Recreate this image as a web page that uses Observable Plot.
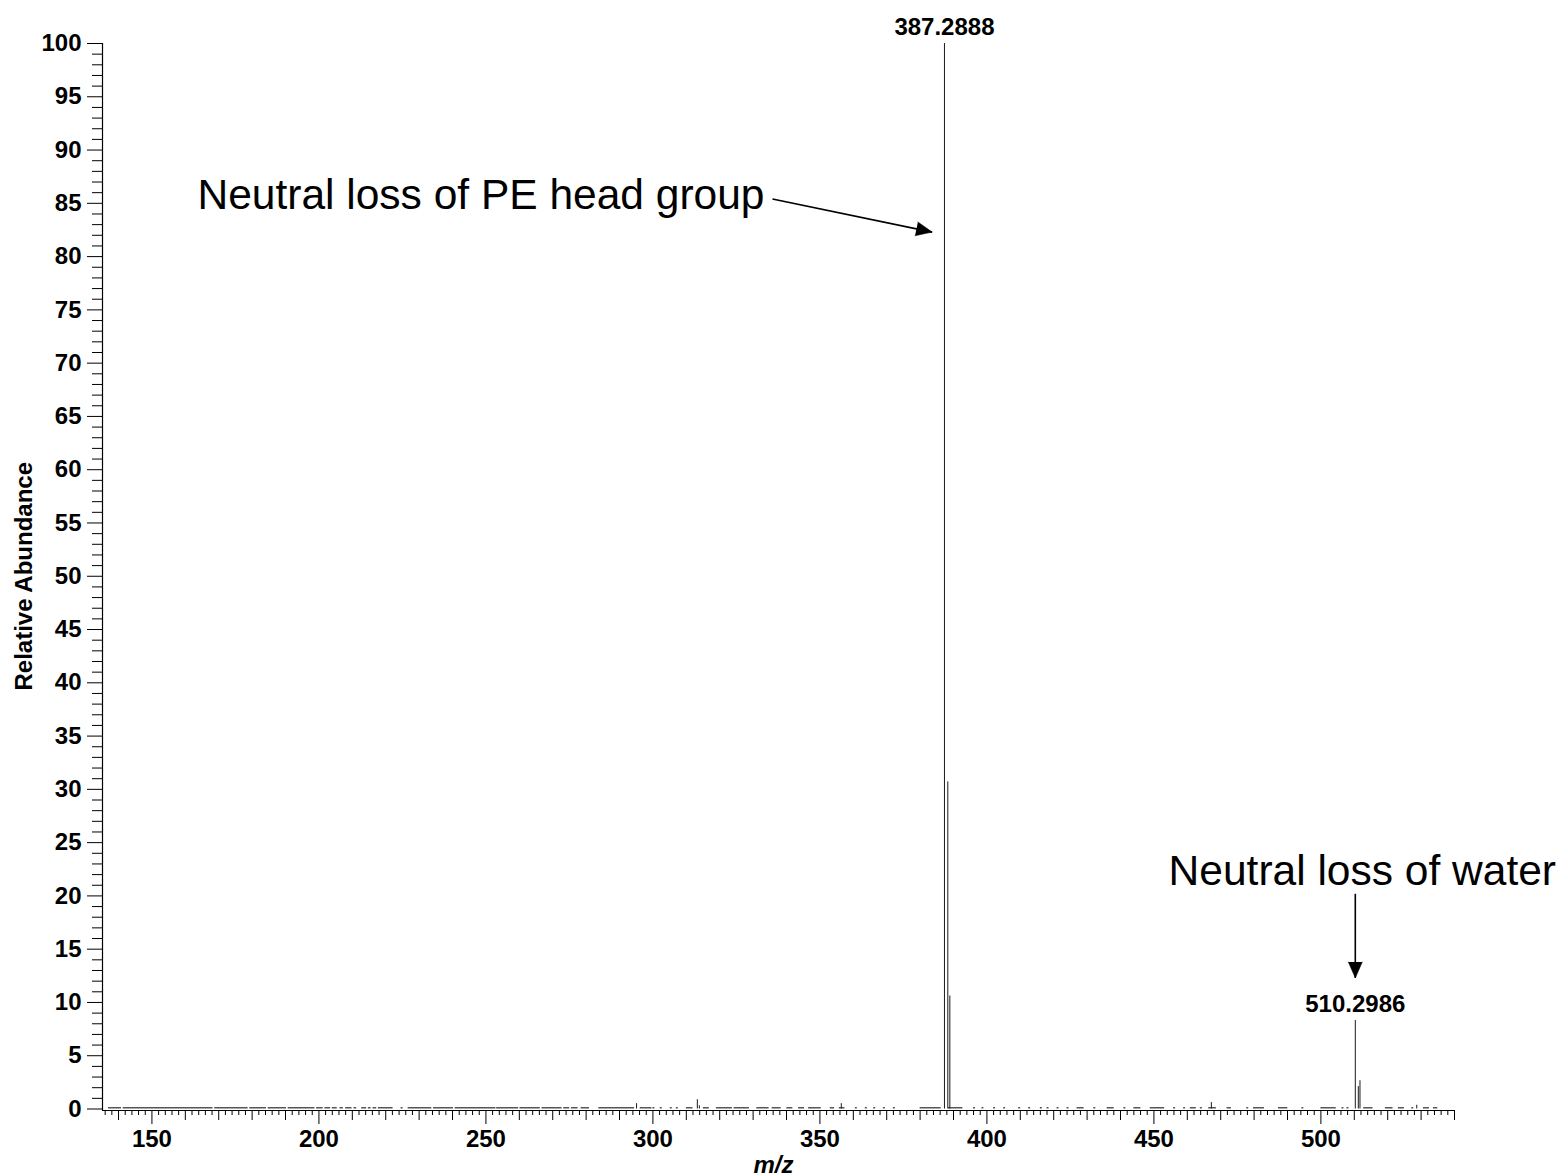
<!DOCTYPE html>
<html>
<head>
<meta charset="utf-8">
<script src="https://cdn.jsdelivr.net/npm/d3@7"></script>
<script src="https://cdn.jsdelivr.net/npm/@observablehq/plot@0.6"></script>
<style>
  html, body { margin: 0; padding: 0; background: #ffffff; }
  #chart svg { display: block; }
</style>
</head>
<body>
<div id="chart"></div>
<script>
// MS/MS spectrum: m/z vs relative abundance

// Resolved fragment peaks
const peakMz    = [387.2888, 388.29, 388.9, 510.2986, 511.2, 511.7, 295.1, 313.3, 313.9, 356.4, 467.2, 528.7];
const peakAbund = [100,      30.7,   10.6,  8.3,      2.1,   2.65,  0.5,   0.87,  0.3,   0.5,   0.6,   0.35];

// Peaks annotated with their exact mass
const labelMz = [387.2888, 510.2986];

// Baseline noise: runs of low-level signal (start / end m/z)
const noiseStart = [137.0, 141.4, 168.8, 179.3, 184.8, 190.8, 199.3, 201.8, 204.0, 206.3, 208.0, 210.5, 212.8, 214.8, 216.2, 217.8,
  224.6, 226.7, 234.3, 240.8, 253.2, 260.2, 266.8, 273.3, 275.6, 278.5, 283.8, 296.2, 300.0, 302.2, 305.2, 307.0, 310.0,
  315.1, 319.0, 324.3, 331.1, 335.7, 340.1, 343.6, 346.6, 353.1, 355.8, 360.6, 363.6, 366.1, 369.0, 372.0, 380.0, 388.5,
  396.0, 398.5, 402.0, 405.0, 409.5, 412.5, 416.0, 418.0, 421.0, 424.0, 427.0, 432.0, 436.0, 441.0, 444.0, 448.9, 455.9,
  458.9, 460.9, 463.9, 466.4, 471.9, 477.8, 479.8, 487.3, 494.3, 500.0, 506.3, 507.8, 512.8, 519.3, 523.2, 527.2, 530.7, 533.7];
const noiseEnd   = [140.6, 168.0, 178.5, 184.0, 190.0, 198.5, 201.0, 203.2, 205.2, 207.0, 209.6, 211.0, 214.0, 215.3, 217.0, 221.9,
  224.9, 233.5, 240.0, 252.7, 259.5, 266.0, 272.5, 274.8, 277.3, 280.7, 294.2, 299.4, 300.3, 302.5, 305.5, 307.3, 311.7,
  316.6, 323.5, 328.6, 334.5, 338.1, 341.6, 345.1, 350.1, 354.1, 357.2, 360.9, 363.9, 366.4, 369.3, 372.3, 386.0, 392.5,
  396.3, 398.8, 402.3, 405.3, 409.8, 412.8, 416.3, 418.3, 421.3, 424.3, 428.8, 432.3, 437.8, 441.3, 445.8, 452.9, 456.2,
  459.2, 462.4, 464.2, 468.4, 472.9, 478.1, 482.8, 489.8, 494.6, 504.3, 506.6, 508.1, 515.3, 521.3, 524.7, 527.5, 532.2, 534.7];
const noiseLevel = 0.14;

// Axis ticks
const xMajor = [150, 200, 250, 300, 350, 400, 450, 500];
const yMajor = [0, 5, 10, 15, 20, 25, 30, 35, 40, 45, 50, 55, 60, 65, 70, 75, 80, 85, 90, 95, 100];

// Annotations: text position and arrow from (x1, y1) to its tip (x2, y2)
const headNote  = {text: "Neutral loss of PE head group", x: 333.4, y: 85.7, x1: 335.8, y1: 85.4, x2: 383.6, y2: 82.3};
const waterNote = {text: "Neutral loss of water",         x: 454.4, y: 22.3, x1: 510.3, y1: 20.2, x2: 510.3, y2: 12.3};

// Layout
const W = 1560, H = 1176;
const mL = 102, mR = 106, mT = 43, mB = 66;
const xDomain = [135.2, 540];
const yDomain = [-0.14, 100];

const peaks = peakMz.map((mz, i) => ({mz, abund: peakAbund[i]}));
const labeled = peaks.filter(p => labelMz.includes(p.mz));
const noise = noiseStart.map((s, i) => ({x1: s, x2: noiseEnd[i] + 0.3, y: noiseLevel}));
const notes = [headNote, waterNote];

// screen direction of each arrow, for orienting its head
const sx = v => mL + (v - xDomain[0]) / (xDomain[1] - xDomain[0]) * (W - mL - mR);
const sy = v => (H - mB) - (v - yDomain[0]) / (yDomain[1] - yDomain[0]) * (H - mT - mB);
notes.forEach(n => {
  const dx = sx(n.x2) - sx(n.x1), dy = sy(n.y2) - sy(n.y1);
  n.angle = Math.atan2(dx, -dy) * 180 / Math.PI;
});

const font = "'Liberation Sans', Arial, Helvetica, sans-serif";
const tickFont = {fontSize: 24, fontWeight: "bold", fontFamily: font};

const chart = Plot.plot({
  width: W,
  height: H,
  marginLeft: mL,
  marginRight: mR,
  marginTop: mT,
  marginBottom: mB,
  style: {fontFamily: font, background: "#ffffff", color: "#000000", overflow: "visible"},
  x: {domain: xDomain},
  y: {domain: yDomain},
  marks: [
    // baseline noise
    Plot.rectY(noise, {x1: "x1", x2: "x2", y1: 0, y2: "y", fill: "#555555"}),
    // spectrum peaks
    Plot.ruleX(peaks, {x: "mz", y1: 0, y2: "abund", stroke: "#1a1a1a", strokeWidth: 1}),
    // axis lines
    Plot.ruleX([xDomain[0]], {stroke: "#000000", strokeWidth: 1.2}),
    Plot.ruleY([yDomain[0]], {stroke: "#000000", strokeWidth: 1.2}),
    // y axis: labelled major ticks and unit minor ticks
    Plot.axisY({ticks: yMajor, tickSize: 15, tickPadding: 6, label: null, ...tickFont}),
    Plot.axisY({ticks: d3.range(0, 101, 1).filter(v => v % 5 !== 0), tickSize: 10, fill: "none", label: null}),
    // x axis: labelled major ticks, tens and twos
    Plot.axisX({ticks: xMajor, tickSize: 14, tickPadding: 5, label: null, ...tickFont}),
    Plot.axisX({ticks: d3.range(140, 541, 10).filter(v => v % 50 !== 0), tickSize: 10, fill: "none", label: null}),
    Plot.axisX({ticks: d3.range(136, 541, 2).filter(v => v % 10 !== 0), tickSize: 5, fill: "none", label: null}),
    // axis titles
    Plot.text(["Relative Abundance"], {text: d => d, frameAnchor: "left", y: 50, dx: -78, rotate: -90,
      lineAnchor: "middle", textAnchor: "middle", fontSize: 24, fontWeight: "bold"}),
    Plot.text(["m/z"], {text: d => d, frameAnchor: "bottom", dx: -5, dy: 55, lineAnchor: "middle",
      fontSize: 24, fontWeight: "bold", fontStyle: "italic"}),
    // exact-mass labels
    Plot.text(labeled, {x: "mz", y: "abund", text: d => d.mz.toFixed(4), dy: -16, lineAnchor: "middle",
      fontSize: 24, fontWeight: "bold"}),
    // annotation texts and arrows
    Plot.text([headNote], {x: "x", y: "y", text: "text", textAnchor: "end", lineAnchor: "middle",
      fontSize: 42.5, fontWeight: "normal"}),
    Plot.text([waterNote], {x: "x", y: "y", text: "text", textAnchor: "start", lineAnchor: "middle",
      fontSize: 42.5, fontWeight: "normal"}),
    Plot.link(notes, {x1: "x1", y1: "y1", x2: "x2", y2: "y2", stroke: "#000000", strokeWidth: 1.6}),
    Plot.vector(notes, {x: "x2", y: "y2", rotate: "angle", length: 16, r: 7, shape: "spike", anchor: "end",
      fill: "#000000", stroke: "#000000", strokeWidth: 0.5})
  ]
});

document.getElementById("chart").appendChild(chart);
</script>
</body>
</html>
